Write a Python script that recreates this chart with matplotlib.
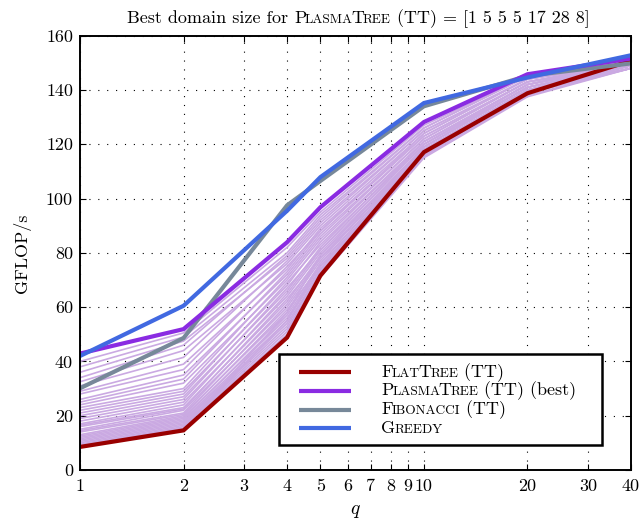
import matplotlib
matplotlib.use("Agg")
import matplotlib.pyplot as plt
from matplotlib.lines import Line2D
from matplotlib.offsetbox import (TextArea, HPacker, VPacker, DrawingArea,
                                  AnchoredOffsetbox)
from matplotlib.ticker import FixedLocator, FixedFormatter, NullLocator

plt.rcParams["font.family"] = ["cmr10"]
plt.rcParams["mathtext.fontset"] = "cm"
plt.rcParams["axes.formatter.use_mathtext"] = True
plt.rcParams["lines.scale_dashes"] = False

# ---------------------------------------------------------------- data
q = [1, 2, 4, 5, 10, 20, 40]

flat_tree = [8.5, 14.6, 48.8, 71.6, 117.1, 138.8, 150.8]
plasma_best = [42.9, 51.9, 83.9, 96.8, 128.2, 145.8, 151.6]
fibonacci = [30.1, 48.6, 97.5, 106.5, 134.0, 145.2, 149.8]
greedy = [42.0, 60.5, 95.5, 107.9, 135.2, 144.6, 152.8]

# PlasmaTree (TT) with the other domain sizes
plasma_variants = [
    [40.0, 50.5, 82.0, 95.0, 127.0, 145.0, 151.0],
    [38.0, 49.0, 80.0, 94.0, 126.0, 145.0, 151.0],
    [36.0, 47.5, 78.0, 92.0, 125.0, 144.0, 151.0],
    [34.0, 46.0, 79.0, 93.0, 126.0, 145.0, 150.0],
    [32.5, 44.0, 76.0, 90.0, 124.0, 144.0, 150.0],
    [31.0, 41.5, 77.0, 91.0, 125.0, 144.0, 150.0],
    [29.0, 39.0, 74.0, 89.0, 123.0, 143.0, 150.0],
    [28.0, 37.0, 75.0, 88.0, 124.0, 144.0, 150.0],
    [26.0, 35.0, 72.0, 87.0, 122.0, 143.0, 150.0],
    [25.0, 33.5, 73.0, 88.0, 123.0, 143.0, 149.0],
    [24.0, 32.0, 70.0, 85.0, 121.0, 142.0, 150.0],
    [23.0, 30.0, 71.0, 86.0, 122.0, 143.0, 149.0],
    [22.0, 29.0, 68.0, 84.0, 121.0, 142.0, 149.0],
    [21.0, 28.0, 69.0, 83.0, 120.0, 142.0, 149.0],
    [20.0, 27.0, 66.0, 82.0, 121.0, 142.0, 150.0],
    [19.0, 26.0, 67.0, 81.0, 120.0, 141.0, 149.0],
    [18.0, 25.0, 64.0, 80.0, 119.0, 141.0, 149.0],
    [17.0, 24.0, 65.0, 81.0, 120.0, 142.0, 150.0],
    [16.5, 23.0, 62.0, 79.0, 119.0, 141.0, 149.0],
    [16.0, 22.5, 63.0, 78.0, 118.0, 140.0, 149.0],
    [15.0, 22.0, 60.0, 77.0, 119.0, 141.0, 149.0],
    [14.5, 21.0, 61.0, 78.0, 118.0, 140.0, 148.0],
    [14.0, 20.5, 58.0, 76.0, 118.0, 140.0, 149.0],
    [13.0, 20.0, 59.0, 75.0, 117.0, 140.0, 148.0],
    [12.5, 19.5, 56.0, 74.0, 118.0, 140.0, 149.0],
    [12.0, 19.0, 57.0, 75.0, 117.0, 139.0, 148.0],
    [11.5, 18.5, 55.0, 74.0, 117.0, 140.0, 148.0],
    [11.0, 18.0, 54.0, 73.0, 116.0, 139.0, 148.0],
    [10.5, 17.5, 53.0, 73.0, 117.0, 139.0, 149.0],
    [10.0, 17.0, 52.0, 72.0, 115.5, 138.0, 148.0],
    [9.5, 16.5, 51.0, 72.0, 116.0, 139.0, 148.0],
    [9.0, 16.0, 50.0, 71.0, 115.0, 137.5, 148.0],
    [9.0, 15.5, 55.0, 76.0, 118.0, 140.0, 149.0],
    [8.5, 15.0, 58.0, 79.0, 119.0, 141.0, 149.0],
]

x_ticks = [1, 2, 3, 4, 5, 6, 7, 8, 9, 10, 20, 30, 40]
x_tick_labels = [str(v) for v in x_ticks]
y_ticks = [0, 20, 40, 60, 80, 100, 120, 140, 160]

series_names = ["FlatTree (TT)", "PlasmaTree (TT) (best)",
                "Fibonacci (TT)", "Greedy"]
series_colors = ["#990000", "#8a2be2", "#778899", "#4169e1"]
variant_color = "#caa9e2"

FS = 13.0          # body text size
SC = 0.74          # reduced capital scale for small caps

# ---------------------------------------------------------------- figure
fig = plt.figure(figsize=(6.41, 5.24), dpi=100)
ax = fig.add_axes([80 / 641, 54 / 524, 551 / 641, 434.3 / 524])

for vals in plasma_variants:
    ax.plot(q, vals, color=variant_color, lw=1.2, zorder=2,
            solid_joinstyle="miter")

for vals, col in zip([flat_tree, fibonacci, plasma_best, greedy],
                     [series_colors[0], series_colors[2],
                      series_colors[1], series_colors[3]]):
    ax.plot(q, vals, color=col, lw=3.0, zorder=3, solid_joinstyle="miter",
            solid_capstyle="butt")

ax.set_xscale("log")
ax.set_xlim(1, 40)
ax.set_ylim(0, 160)
ax.xaxis.set_major_locator(FixedLocator(x_ticks))
ax.xaxis.set_major_formatter(FixedFormatter(x_tick_labels))
ax.xaxis.set_minor_locator(NullLocator())
ax.set_yticks(y_ticks)
ax.set_yticklabels([str(v) for v in y_ticks])

ax.tick_params(which="major", direction="in", top=True, right=True,
               length=4, width=0.8, labelsize=FS, color="black")
ax.tick_params(axis="x", pad=6)
ax.tick_params(axis="y", pad=5)

ax.grid(True, which="major", color="black", linestyle=(0, (0.8, 5.6)),
        linewidth=0.8)
ax.set_axisbelow(True)
for sp in ax.spines.values():
    sp.set_linewidth(1.4)
    sp.set_color("black")
    sp.set_zorder(4)

ax.set_xlabel(r"$q$", fontsize=FS + 1, labelpad=6)
ax.set_ylabel("GFLOP/s", fontsize=FS, labelpad=11)


# ---------------------------------------------------------------- small caps
def small_caps_runs(word):
    runs = []
    for ch in word:
        small = ch.islower()
        if runs and runs[-1][1] == small:
            runs[-1][0] += ch.upper() if small else ch
        else:
            runs.append([ch.upper() if small else ch, small])
    return runs


def text_pieces(pieces, size, sep=0.0):
    kids = []
    for txt, small in pieces:
        kids.append(TextArea(txt, textprops=dict(
            fontsize=size * SC if small else size, color="black")))
    return HPacker(children=kids, align="baseline", pad=0, sep=sep)


def small_caps_label(name, rest, size):
    # name set in small caps, followed by plain text
    parts = [text_pieces(small_caps_runs(name), size, sep=-1.0)]
    if rest:
        parts.append(text_pieces([[rest, False]], size))
    return HPacker(children=parts, align="baseline", pad=0, sep=0)


# title
title_row = HPacker(children=[
    text_pieces([["Best domain size for ", False]], FS),
    small_caps_label("PlasmaTree", " (TT) = [1 5 5 5 17 28 8]", FS),
], align="baseline", pad=0, sep=0)
title_box = AnchoredOffsetbox(loc="center", child=title_row,
                              pad=0, borderpad=0, frameon=False,
                              bbox_to_anchor=(0.505, 1.040),
                              bbox_transform=ax.transAxes)
ax.add_artist(title_box)

# legend
PX = 0.72  # points per pixel at 100 dpi
pad_px = 8.5
rows = []
for label, col in zip(series_names, series_colors):
    name, _, rest = label.partition(" ")
    left = DrawingArea((20 - pad_px) * PX, 18 * PX)
    swatch = DrawingArea(52 * PX, 18 * PX)
    swatch.add_artist(Line2D([0, 52 * PX], [9 * PX, 9 * PX], color=col,
                             lw=3.0, solid_capstyle="butt"))
    gap = DrawingArea(30 * PX, 18 * PX)
    right = DrawingArea(17 * PX, 18 * PX)
    text = small_caps_label(name, (" " + rest) if rest else "", FS)
    rows.append(HPacker(children=[left, swatch, gap, text, right],
                        align="center", pad=0, sep=0))
legend_body = VPacker(children=rows, align="left", pad=pad_px * PX, sep=0)
legend_box = AnchoredOffsetbox(loc="upper left", child=legend_body, pad=0,
                               borderpad=0, frameon=True,
                               bbox_to_anchor=((279.3 - 80) / 551,
                                               (470 - 354.3) / 434.3),
                               bbox_transform=ax.transAxes)
legend_box.patch.set_boxstyle("square", pad=0)
legend_box.patch.set_edgecolor("black")
legend_box.patch.set_facecolor("white")
legend_box.patch.set_linewidth(1.8)
legend_box.set_zorder(6)
ax.add_artist(legend_box)

fig.savefig("out.png", dpi=100)
